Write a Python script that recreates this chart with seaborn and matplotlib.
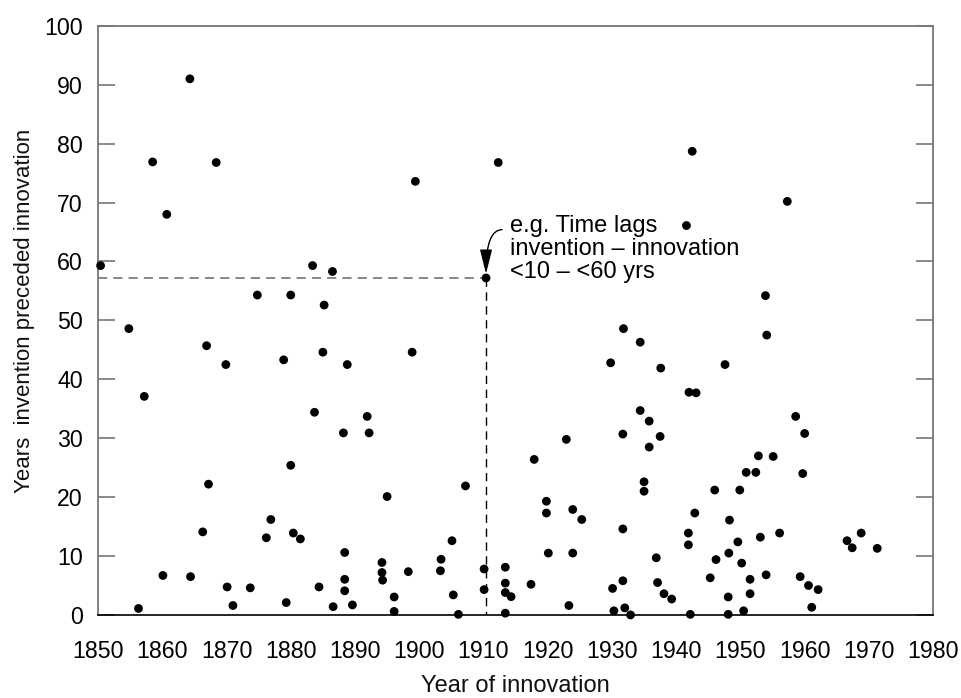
import matplotlib
matplotlib.use("Agg")
import matplotlib.pyplot as plt
import seaborn as sns
import pandas as pd

# innovation year and lag (years invention preceded innovation)
years = [1850.4, 1854.8, 1858.5, 1860.7, 1864.3, 1868.4, 1883.4, 1874.8, 1880.0, 1885.2,
         1886.5, 1899.4, 1912.3, 1910.4, 1931.8, 1942.5, 1957.3, 1941.6, 1953.9, 1954.1,
         1934.4, 1866.9, 1869.9, 1878.9, 1885.0, 1857.2, 1883.7, 1880.0, 1867.2, 1876.9,
         1866.3, 1876.2, 1880.4, 1881.5, 1860.1, 1864.4, 1870.1, 1873.7, 1884.4, 1871.0,
         1879.3, 1856.3, 1888.8, 1898.9, 1891.9, 1888.2, 1892.2, 1895.0, 1907.2, 1905.1,
         1888.4, 1894.2, 1894.2, 1894.3, 1888.4, 1888.4, 1886.6, 1889.6, 1896.1, 1896.1,
         1898.3, 1903.4, 1903.3, 1905.3, 1906.1, 1910.1, 1910.1, 1913.4, 1913.4, 1913.4,
         1914.3, 1913.4, 1917.4, 1917.9, 1919.8, 1919.8, 1920.1, 1922.9, 1923.9, 1925.3,
         1923.9, 1923.3, 1929.8, 1931.7, 1934.4, 1931.7, 1930.1, 1931.7, 1930.3, 1932.0,
         1932.9, 1937.6, 1942.0, 1943.1, 1935.8, 1937.5, 1935.8, 1935.0, 1935.0, 1936.9,
         1937.1, 1938.1, 1939.3, 1941.9, 1941.9, 1942.9, 1942.2, 1945.3, 1946.0, 1946.2,
         1947.6, 1948.3, 1948.2, 1948.1, 1948.1, 1949.6, 1949.9, 1950.2, 1950.5, 1950.9,
         1952.4, 1952.8, 1951.5, 1951.5, 1953.1, 1954.0, 1955.1, 1956.1, 1958.6, 1960.0,
         1959.7, 1959.3, 1960.6, 1962.1, 1961.1, 1966.6, 1967.4, 1968.8, 1971.3]
lags = [59.3, 48.6, 76.9, 68.0, 91.0, 76.8, 59.3, 54.3, 54.3, 52.6,
        58.3, 73.6, 76.8, 57.2, 48.6, 78.7, 70.2, 66.1, 54.2, 47.5,
        46.3, 45.7, 42.5, 43.3, 44.6, 37.1, 34.4, 25.4, 22.2, 16.2,
        14.1, 13.1, 13.9, 12.9, 6.7, 6.5, 4.75, 4.6, 4.75, 1.6,
        2.1, 1.1, 42.5, 44.6, 33.7, 30.9, 30.9, 20.1, 21.9, 12.6,
        10.6, 8.9, 7.2, 5.9, 6.05, 4.1, 1.4, 1.7, 3.05, 0.6,
        7.35, 9.45, 7.5, 3.4, 0.1, 7.8, 4.3, 8.1, 5.4, 3.8,
        3.1, 0.3, 5.2, 26.4, 19.3, 17.3, 10.5, 29.8, 17.9, 16.2,
        10.5, 1.6, 42.8, 30.7, 34.7, 14.6, 4.5, 5.8, 0.7, 1.2,
        0.0, 41.9, 37.8, 37.7, 32.9, 30.3, 28.5, 22.6, 21.0, 9.7,
        5.5, 3.6, 2.7, 13.9, 11.9, 17.3, 0.1, 6.3, 21.2, 9.4,
        42.5, 16.1, 10.5, 3.05, 0.1, 12.4, 21.2, 8.8, 0.7, 24.2,
        24.2, 27.0, 6.05, 3.6, 13.2, 6.8, 26.9, 13.9, 33.7, 30.8,
        24.0, 6.5, 5.0, 4.3, 1.3, 12.6, 11.4, 13.9, 11.3]

# example highlighted in the annotation
ex_year = 1910.4
ex_lag = 57.2

xticks = list(range(1850, 1981, 10))
yticks = list(range(0, 101, 10))

df = pd.DataFrame({"year": years, "lag": lags})

sns.set_style("white")
plt.rcParams['font.family'] = ['Liberation Sans', 'DejaVu Sans']

fig = plt.figure(figsize=(9.61, 6.98), dpi=100)
ax = fig.add_axes([0.102, 0.119, 0.869, 0.844])

sns.scatterplot(data=df, x="year", y="lag", ax=ax, color="black", s=40,
                edgecolor="none", zorder=3, clip_on=False)

# dashed guide lines to the example point
ax.plot([1850, ex_year], [ex_lag, ex_lag], color="#666666", lw=1.1,
        linestyle=(0, (6, 4)), zorder=2)
ax.plot([ex_year, ex_year], [ex_lag, 0], color="black", lw=1.0,
        linestyle=(0, (6, 4)), zorder=2)

ax.text(1914.2, 67.9, "e.g. Time lags\ninvention – innovation\n<10 – <60 yrs",
        fontsize=17, va="top", ha="left", linespacing=1.05, color="black")
ax.annotate("", xy=(ex_year, 57.9), xytext=(1912.9, 65.4),
            arrowprops=dict(arrowstyle="-|>,head_length=1.0,head_width=0.25",
                            mutation_scale=15, color="black", lw=1.0,
                            shrinkA=0, shrinkB=0,
                            connectionstyle="angle3,angleA=0,angleB=90"))

ax.set_xlim(1850, 1980)
ax.set_ylim(0, 100)
ax.set_xticks(xticks)
ax.set_yticks(yticks)
ax.tick_params(axis="x", direction="out", length=10, width=1.0, color="#333333",
               labelsize=16.7, pad=8, labelcolor="black")
ax.tick_params(axis="y", direction="in", length=12, width=1.2, color="#777777",
               labelsize=16.7, pad=11, right=True, left=True, labelcolor="black")
xt = ax.xaxis.get_major_ticks()
xt[0].tick1line.set_visible(False)
xt[-1].tick1line.set_visible(False)

for side in ["left", "top", "right"]:
    ax.spines[side].set_color("#777777")
    ax.spines[side].set_linewidth(1.3)
ax.spines["bottom"].set_color("black")
ax.spines["bottom"].set_linewidth(1.2)

ax.set_xlabel("Year of innovation", fontsize=17, labelpad=8.5, color="#111111")
ax.set_ylabel("Years  invention preceded innovation", fontsize=16, color="#111111")
ax.yaxis.set_label_coords(-0.075, 0.516)

fig.savefig("out.png", dpi=100)
